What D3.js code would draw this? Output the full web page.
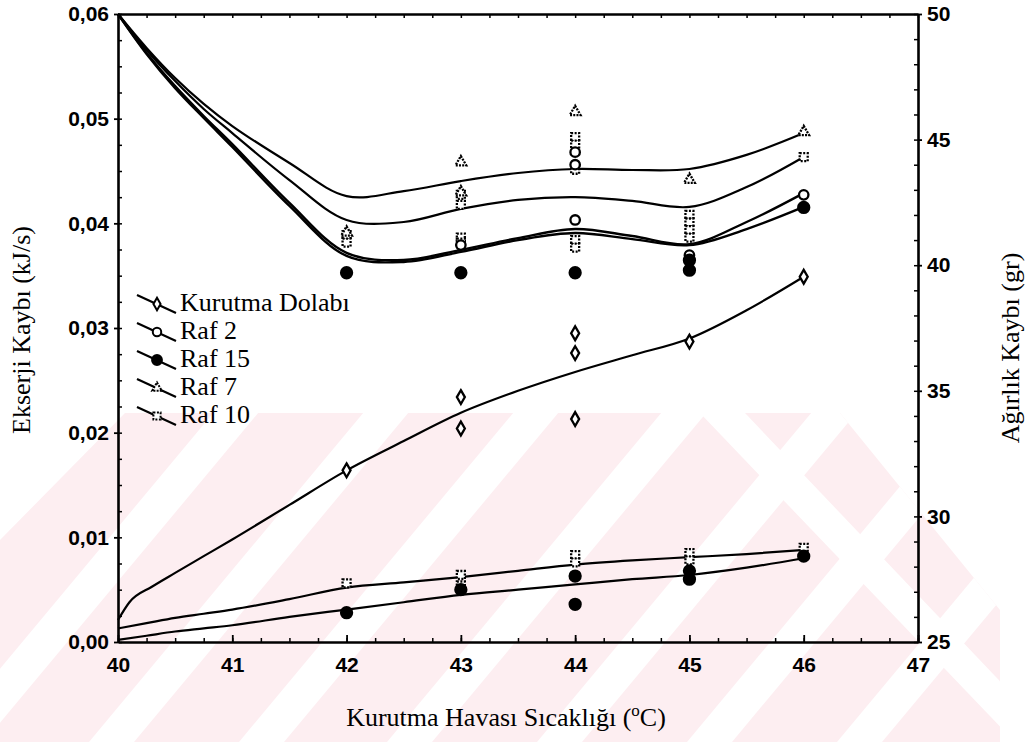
<!DOCTYPE html>
<html><head><meta charset="utf-8">
<script src="https://cdn.jsdelivr.net/npm/d3@7"></script>
<style>
html,body{margin:0;padding:0;background:#fff;}
svg{display:block;}
</style></head>
<body>
<svg id="chart" width="1032" height="742"></svg>
<script>
// ---------- data ----------
const xTicks = [40, 41, 42, 43, 44, 45, 46, 47];
const leftTicks = [0, 0.01, 0.02, 0.03, 0.04, 0.05, 0.06];
const rightTicks = [25, 30, 35, 40, 45, 50];

const seriesNames = ["Kurutma Dolabı", "Raf 2", "Raf 15", "Raf 7", "Raf 10"];

// fitted curves (x positions)
const fitX = [40, 40.25, 40.5, 40.75, 41, 41.5, 42, 42.5, 43, 43.5, 44, 44.5, 45, 45.5, 46];
// weight-loss fits (gr, right axis)
const fitRaf7W  = [50.0, 48.65, 47.45, 46.42, 45.54, 44.07, 42.75, 42.95, 43.35, 43.67, 43.83, 43.79, 43.83, 44.39, 45.26];
const fitRaf10W = [50.0, 48.57, 47.33, 46.22, 45.26, 43.39, 41.80, 41.72, 42.24, 42.60, 42.71, 42.56, 42.32, 43.11, 44.31];
const fitRaf2W  = [50.0, 48.45, 47.13, 45.94, 44.82, 42.48, 40.49, 40.21, 40.61, 41.08, 41.44, 41.16, 40.84, 41.72, 42.87];
const fitRaf15W = [50.0, 48.41, 47.05, 45.86, 44.71, 42.36, 40.37, 40.13, 40.53, 41.00, 41.28, 41.04, 40.80, 41.44, 42.32];
// exergy-loss fits (kJ/s, left axis)
const fitDolapX = [40, 40.1, 40.3, 40.5, 40.75, 41, 41.5, 42, 42.5, 43, 43.5, 44, 44.5, 45, 45.5, 46];
const fitDolapE = [0.0021, 0.0038, 0.0053, 0.0066, 0.0082, 0.0098, 0.0131, 0.0164, 0.0192, 0.0219, 0.0240, 0.0258, 0.0274, 0.0290, 0.0317, 0.0349];
const fitRaf10E = [0.0013, 0.0018, 0.0023, 0.0027, 0.0031, 0.0041, 0.0052, 0.0057, 0.0062, 0.0068, 0.0074, 0.0078, 0.0081, 0.0084, 0.0088];
const fitRaf15E = [0.0002, 0.0006, 0.0010, 0.0013, 0.0016, 0.0024, 0.0031, 0.0038, 0.0045, 0.0050, 0.0055, 0.0060, 0.0064, 0.0071, 0.0080];

// measured points
const dolapX = [42, 43, 43, 44, 44, 44, 45, 46];
const dolapE = [0.0164, 0.0234, 0.0204, 0.0295, 0.0276, 0.0213, 0.0287, 0.0349];

const raf7X = [42, 43, 43, 44, 45, 46];
const raf7W = [41.3, 44.1, 42.9, 46.1, 43.4, 45.3];
const raf10X = [42, 42, 43, 43, 43, 43, 44, 44, 44, 44, 44, 45, 45, 45, 45, 46];
const raf10W = [41.2, 40.9, 42.8, 42.4, 41.1, 40.9, 45.1, 44.8, 43.8, 41.0, 40.7, 42.0, 41.7, 41.4, 41.1, 44.3];
const raf2X = [43, 44, 44, 44, 45, 46];
const raf2W = [40.8, 44.5, 44.0, 41.8, 40.4, 42.8];
const raf15X = [42, 43, 44, 45, 45, 46];
const raf15W = [39.7, 39.7, 39.7, 40.2, 39.8, 42.3];

const raf10EX = [42, 43, 43, 44, 44, 45, 45, 46];
const raf10E  = [0.0056, 0.0064, 0.0054, 0.0083, 0.0076, 0.0085, 0.0078, 0.0090];
const raf15EX = [42, 43, 44, 44, 45, 45, 46];
const raf15E  = [0.0028, 0.0050, 0.0036, 0.0063, 0.0068, 0.0060, 0.0082];

// ---------- drawing ----------
const svg = d3.select("#chart");
const x = d3.scaleLinear().domain([40, 47]).range([118, 918]);
const yL = d3.scaleLinear().domain([0, 0.06]).range([642, 14]);
const yR = d3.scaleLinear().domain([25, 50]).range([642, 14]);
const loc = d3.formatLocale({decimal: ",", thousands: ".", grouping: [3], currency: ["", ""]});
const fmtL = loc.format(".2f");

const tickFont = "'Liberation Sans', Arial, sans-serif";
const serif = "'Liberation Serif', 'Times New Roman', serif";

// faint background watermark (pink area crossed by white diagonal bands)
const defs = svg.append("defs");
defs.append("clipPath").attr("id", "wmclip").append("polygon")
  .attr("points", "125,413 840,413 1000,610 1000,742 0,742 0,540");
const wm = svg.append("g").attr("clip-path", "url(#wmclip)");
wm.append("rect").attr("x", 0).attr("y", 400).attr("width", 1032).attr("height", 342).attr("fill", "#fdeef1");
[-61, 89, 239, 387, 537, 687, 837].forEach(b => {
  wm.append("polygon").attr("fill", "#fff")
    .attr("points", `${b},742 ${b + 45},742 ${b + 45 + 275},412 ${b + 275},412`);
});
wm.append("polygon").attr("fill", "#fff").attr("points", "700,413 745,413 1032,715 1032,760");

function styleAxis(g) {
  g.select(".domain").attr("stroke", "#000").attr("stroke-width", 2.6);
  g.selectAll(".tick line").attr("stroke", "#000").attr("stroke-width", 1.8);
  g.selectAll(".tick text").attr("fill", "#000").attr("font-family", tickFont)
    .attr("font-size", 21).attr("font-weight", "bold");
}

// minor ticks
const minorX = d3.range(40, 47.001, 0.25);
const minorL = d3.range(0, 0.0601, 0.0025);
const minorR = d3.range(25, 50.01, 1);

// bottom axis
const gB = svg.append("g").attr("transform", "translate(0,642)")
  .call(d3.axisBottom(x).tickValues(xTicks).tickFormat(d3.format("d")).tickSizeInner(-7).tickSizeOuter(0).tickPadding(15));
styleAxis(gB);
svg.append("g").attr("transform", "translate(0,642)")
  .call(d3.axisBottom(x).tickValues(minorX).tickFormat("").tickSizeInner(-4).tickSizeOuter(0))
  .call(g => { g.select(".domain").remove(); g.selectAll("line").attr("stroke", "#000").attr("stroke-width", 1.5); });

// top frame
svg.append("g").attr("transform", "translate(0,14)")
  .call(d3.axisTop(x).tickValues(minorX).tickFormat("").tickSizeInner(-4).tickSizeOuter(0))
  .call(g => { g.select(".domain").attr("stroke", "#000").attr("stroke-width", 2.6); g.selectAll("line").attr("stroke", "#000").attr("stroke-width", 1.5); });

// left axis
const gL = svg.append("g").attr("transform", "translate(118,0)")
  .call(d3.axisLeft(yL).tickValues(leftTicks).tickFormat(fmtL).tickSizeInner(4).tickSizeOuter(0).tickPadding(5));
styleAxis(gL);
svg.append("g").attr("transform", "translate(118,0)")
  .call(d3.axisLeft(yL).tickValues(minorL).tickFormat("").tickSizeInner(-4).tickSizeOuter(0))
  .call(g => { g.select(".domain").remove(); g.selectAll("line").attr("stroke", "#000").attr("stroke-width", 1.5); });

// right axis
const gR = svg.append("g").attr("transform", "translate(918,0)")
  .call(d3.axisRight(yR).tickValues(rightTicks).tickFormat(d3.format("d")).tickSizeInner(4).tickSizeOuter(0).tickPadding(5));
styleAxis(gR);
svg.append("g").attr("transform", "translate(918,0)")
  .call(d3.axisRight(yR).tickValues(minorR).tickFormat("").tickSizeInner(-4).tickSizeOuter(0))
  .call(g => { g.select(".domain").remove(); g.selectAll("line").attr("stroke", "#000").attr("stroke-width", 1.5); });

// axis titles
svg.append("text").attr("x", 506).attr("y", 726).attr("text-anchor", "middle")
  .attr("font-family", serif).attr("font-size", 26).attr("fill", "#000")
  .html("Kurutma Havası Sıcaklığı (<tspan dy='-10' font-size='17'>o</tspan><tspan dy='10'>C)</tspan>");
svg.append("text").attr("transform", "translate(30,330) rotate(-90)").attr("text-anchor", "middle")
  .attr("font-family", serif).attr("font-size", 26).attr("fill", "#000").text("Ekserji Kaybı (kJ/s)");
svg.append("text").attr("transform", "translate(1010,348) rotate(-90)").attr("text-anchor", "middle")
  .attr("dominant-baseline", "central")
  .attr("font-family", serif).attr("font-size", 26).attr("fill", "#000").text("Ağırlık Kaybı (gr)");

// curves
const plot = svg.append("g");
function drawFit(xs, vals, yScale, w, curve) {
  const gen = d3.line().x(d => x(d[0])).y(d => yScale(d[1])).curve(curve);
  plot.append("path").datum(xs.map((v, i) => [v, vals[i]]))
    .attr("d", gen).attr("fill", "none").attr("stroke", "#000").attr("stroke-width", w);
}
const cr = d3.curveCatmullRom.alpha(0.5);
drawFit(fitX, fitRaf7W, yR, 2.2, cr);
drawFit(fitX, fitRaf10W, yR, 2.2, cr);
drawFit(fitX, fitRaf2W, yR, 2.4, cr);
drawFit(fitX, fitRaf15W, yR, 2.4, cr);
drawFit(fitDolapX, fitDolapE, yL, 2.2, d3.curveMonotoneX);
drawFit(fitX, fitRaf10E, yL, 2.2, d3.curveMonotoneX);
drawFit(fitX, fitRaf15E, yL, 2.2, d3.curveMonotoneX);

// markers
const markerStyles = {
  "Kurutma Dolabı": {sym: d3.symbolDiamond, size: 55, fill: "#fff", dash: null},
  "Raf 2": {sym: d3.symbolCircle, size: 70, fill: "#fff", dash: null},
  "Raf 15": {sym: d3.symbolCircle, size: 95, fill: "#000", dash: null},
  "Raf 7": {sym: d3.symbolTriangle, size: 50, fill: "#fff", dash: "2,1.2"},
  "Raf 10": {sym: d3.symbolSquare, size: 64, fill: "#fff", dash: "2,1.5"}
};
function drawPts(name, xs, vs, yScale) {
  const st = markerStyles[name];
  plot.append("g").selectAll("path").data(xs.map((v, i) => [v, vs[i]])).join("path")
    .attr("transform", d => `translate(${x(d[0])},${yScale(d[1])})`)
    .attr("d", d3.symbol().type(st.sym).size(st.size))
    .attr("fill", st.fill).attr("stroke", "#000").attr("stroke-width", 2.3)
    .attr("stroke-dasharray", st.dash);
}
drawPts("Raf 10", raf10X, raf10W, yR);
drawPts("Raf 10", raf10EX, raf10E, yL);
drawPts("Raf 7", raf7X, raf7W, yR);
drawPts("Raf 2", raf2X, raf2W, yR);
drawPts("Raf 15", raf15X, raf15W, yR);
drawPts("Raf 15", raf15EX, raf15E, yL);
drawPts("Kurutma Dolabı", dolapX, dolapE, yL);

// legend
const leg = svg.append("g");
seriesNames.forEach((name, i) => {
  const cy = 302 + i * 28;
  const st = markerStyles[name];
  leg.append("line").attr("x1", 137).attr("y1", cy - 7).attr("x2", 176).attr("y2", cy + 11)
    .attr("stroke", "#000").attr("stroke-width", 2.2);
  leg.append("path").attr("transform", `translate(157,${cy + 2})`)
    .attr("d", d3.symbol().type(st.sym).size(st.size * 0.8))
    .attr("fill", st.fill).attr("stroke", "#000").attr("stroke-width", 2).attr("stroke-dasharray", st.dash);
  leg.append("text").attr("x", 180).attr("y", cy).attr("dominant-baseline", "central")
    .attr("font-family", serif).attr("font-size", 26).attr("fill", "#000").text(name);
});
</script>
</body></html>
